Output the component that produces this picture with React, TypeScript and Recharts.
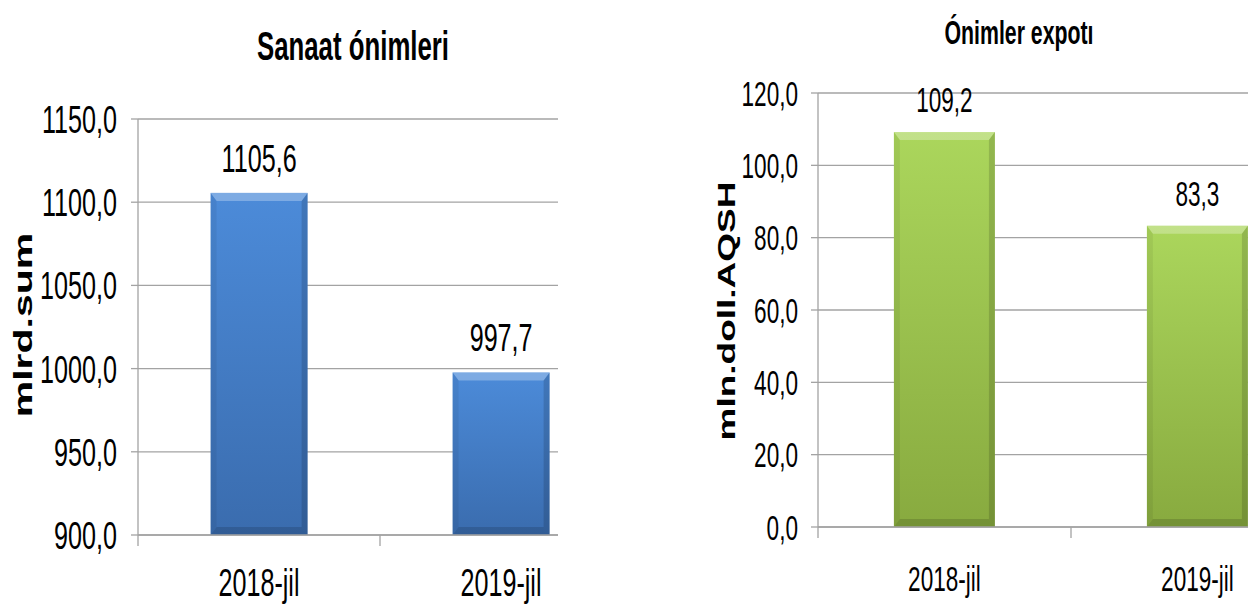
import React from "react";
import { BarChart, Bar, XAxis, YAxis, CartesianGrid } from "recharts";

// data
const categories = ["2018-jil", "2019-jil"];
const sanaatValues = [1105.6, 997.7];
const exportValues = [109.2, 83.3];
const sanaatTicks = [900, 950, 1000, 1050, 1100, 1150];
const exportTicks = [0, 20, 40, 60, 80, 100, 120];

const sanaatData = categories.map((name, i) => ({ name, value: sanaatValues[i] }));
const exportData = categories.map((name, i) => ({ name, value: exportValues[i] }));

const FONT = "'Liberation Sans', Arial, sans-serif";
const SQUEEZE = 0.645; // the source picture is squashed sideways
const GRID = "#a3a3a3";

const fmt = (v: number) => v.toFixed(1).replace(".", ",");

const squeezed = (x: number, y: number) => `translate(${x},${y}) scale(${SQUEEZE},1)`;

const makeYTick = (fontSize: number) => (props: any) => {
  const { x, y, payload } = props;
  return (
    <text
      transform={squeezed(x, y + fontSize * 0.36)}
      textAnchor="end"
      fontFamily={FONT}
      fontSize={fontSize}
      fill="#000"
    >
      {fmt(payload.value)}
    </text>
  );
};

const makeXTick = (fontSize: number, band: number, drop: number, count: number) => (props: any) => {
  const { x, y, payload, index } = props;
  const left = x - band / 2;
  return (
    <g>
      <line x1={left} x2={left} y1={y} y2={y + 11} stroke={GRID} strokeWidth={1.3} />
      {index === count - 1 && (
        <line x1={x + band / 2} x2={x + band / 2} y1={y} y2={y + 11} stroke={GRID} strokeWidth={1.3} />
      )}
      <text
        transform={squeezed(x, y + drop)}
        textAnchor="middle"
        fontFamily={FONT}
        fontSize={fontSize}
        fill="#000"
      >
        {payload.value}
      </text>
    </g>
  );
};

const makeValueLabel = (fontSize: number, lift: number) => (props: any) => {
  const { x, y, width, value } = props;
  return (
    <text
      transform={squeezed(Number(x) + Number(width) / 2, Number(y) - lift)}
      textAnchor="middle"
      fontFamily={FONT}
      fontSize={fontSize}
      fill="#000"
    >
      {fmt(Number(value))}
    </text>
  );
};

interface Palette {
  id: string;
  top: string;
  bottom: string;
}

const blue: Palette = { id: "blueBody", top: "#4c8bd9", bottom: "#3a6cae" };
const green: Palette = { id: "greenBody", top: "#abd65c", bottom: "#88aa3f" };

const makeBevelBar = (pal: Palette) => (props: any) => {
  const { x, y, width, height } = props;
  if (!height || height <= 0) return <g />;
  const bx = 6;
  const by = 8;
  const x2 = x + width;
  const y2 = y + height;
  return (
    <g>
      <rect x={x} y={y} width={width} height={height} fill={`url(#${pal.id})`} />
      <polygon
        points={`${x},${y} ${x2},${y} ${x2 - bx},${y + by} ${x + bx},${y + by}`}
        fill="#ffffff"
        fillOpacity={0.28}
      />
      <polygon
        points={`${x},${y} ${x + bx},${y + by} ${x + bx},${y2 - by} ${x},${y2}`}
        fill="#000000"
        fillOpacity={0.06}
      />
      <polygon
        points={`${x2},${y} ${x2},${y2} ${x2 - bx},${y2 - by} ${x2 - bx},${y + by}`}
        fill="#000000"
        fillOpacity={0.14}
      />
      <polygon
        points={`${x},${y2} ${x + bx},${y2 - by} ${x2 - bx},${y2 - by} ${x2},${y2}`}
        fill="#000000"
        fillOpacity={0.14}
      />
    </g>
  );
};

function Gradient({ pal }: { pal: Palette }) {
  return (
    <linearGradient id={pal.id} x1="0" y1="0" x2="0" y2="1">
      <stop offset="0%" stopColor={pal.top} />
      <stop offset="100%" stopColor={pal.bottom} />
    </linearGradient>
  );
}

function SanaatChart() {
  return (
    <div style={{ position: "absolute", left: 0, top: 0, width: 558, height: 609, overflow: "hidden" }}>
      <BarChart
        width={700}
        height={609}
        data={sanaatData}
        margin={{ top: 119, right: 78, bottom: 0, left: 0 }}
        barCategoryGap="30%"
      >
        <defs>
          <Gradient pal={blue} />
        </defs>
        <CartesianGrid vertical={false} stroke={GRID} strokeWidth={1.3} />
        <XAxis
          dataKey="name"
          height={74}
          interval={0}
          tickSize={0}
          tickMargin={0}
          tickLine={false}
          axisLine={{ stroke: GRID, strokeWidth: 1.3 }}
          tick={makeXTick(39, 242, 61, categories.length)}
        />
        <YAxis
          width={138}
          domain={[900, 1150]}
          ticks={sanaatTicks}
          interval={0}
          tickSize={7}
          tickMargin={14}
          axisLine={{ stroke: GRID, strokeWidth: 1.3 }}
          tickLine={{ stroke: GRID, strokeWidth: 1.3 }}
          tick={makeYTick(39)}
        />
        <Bar
          dataKey="value"
          isAnimationActive={false}
          shape={makeBevelBar(blue)}
          label={makeValueLabel(39, 21)}
        />
      </BarChart>
      <svg width={558} height={609} style={{ position: "absolute", left: 0, top: 0 }}>
        <text
          transform={squeezed(353, 60)}
          textAnchor="middle"
          fontFamily={FONT}
          fontWeight="bold"
          fontSize={40}
          fill="#000"
        >
          Sanaat ónimleri
        </text>
        <text
          transform={`translate(32,325) scale(${SQUEEZE},1) rotate(-90)`}
          textAnchor="middle"
          fontFamily={FONT}
          fontWeight="bold"
          fontSize={41}
          fill="#000"
        >
          mlrd.sum
        </text>
      </svg>
    </div>
  );
}

function ExportChart() {
  return (
    <div style={{ position: "absolute", left: 640, top: 0, width: 608, height: 609, overflow: "hidden" }}>
      <BarChart
        width={700}
        height={609}
        data={exportData}
        margin={{ top: 93, right: 16, bottom: 0, left: 0 }}
        barCategoryGap="30%"
      >
        <defs>
          <Gradient pal={green} />
        </defs>
        <CartesianGrid vertical={false} stroke={GRID} strokeWidth={1.3} />
        <XAxis
          dataKey="name"
          height={82}
          interval={0}
          tickSize={0}
          tickMargin={0}
          tickLine={false}
          axisLine={{ stroke: GRID, strokeWidth: 1.3 }}
          tick={makeXTick(35, 253, 64, categories.length)}
        />
        <YAxis
          width={178}
          domain={[0, 120]}
          ticks={exportTicks}
          interval={0}
          tickSize={7}
          tickMargin={13}
          axisLine={{ stroke: GRID, strokeWidth: 1.3 }}
          tickLine={{ stroke: GRID, strokeWidth: 1.3 }}
          tick={makeYTick(35)}
        />
        <Bar
          dataKey="value"
          isAnimationActive={false}
          shape={makeBevelBar(green)}
          label={makeValueLabel(35, 20)}
        />
      </BarChart>
      <svg width={608} height={609} style={{ position: "absolute", left: 0, top: 0 }}>
        <text
          transform={squeezed(379, 44)}
          textAnchor="middle"
          fontFamily={FONT}
          fontWeight="bold"
          fontSize={33}
          fill="#000"
        >
          Ónimler expotı
        </text>
        <text
          transform={`translate(95,311) scale(${SQUEEZE},1) rotate(-90)`}
          textAnchor="middle"
          fontFamily={FONT}
          fontWeight="bold"
          fontSize={37}
          fill="#000"
        >
          mln.doll.AQSH
        </text>
      </svg>
    </div>
  );
}

export default function App() {
  return (
    <div style={{ position: "absolute", left: 0, top: 0, width: 1248, height: 609, background: "#fff" }}>
      <SanaatChart />
      <ExportChart />
    </div>
  );
}
